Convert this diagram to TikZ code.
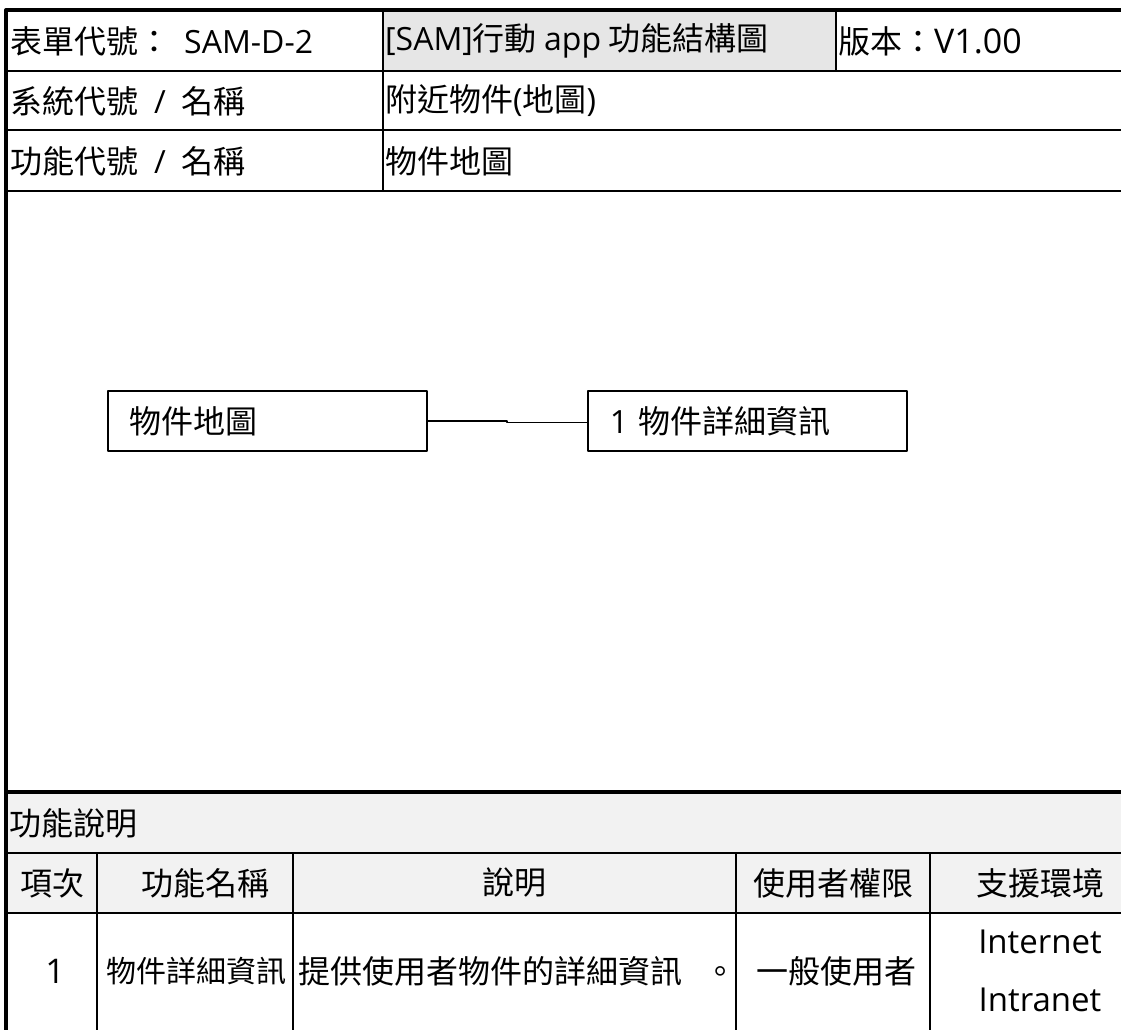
\documentclass[tikz,border=0pt]{standalone}
\usepackage{fontspec}
\setmainfont{Noto Sans CJK TC}
\newfontfamily\latin{Open Sans}
\newcommand\lat[1]{{\latin #1}}
\usetikzlibrary{positioning}
\definecolor{titlegray}{HTML}{E6E6E6}
\definecolor{headgray}{HTML}{F2F2F2}
\begin{document}
\begin{tikzpicture}[x=1pt,y=-1pt,line join=round,font=\fontsize{32}{38}\selectfont,
	rule/.style={line width=1.8pt},
	heavy/.style={line width=4pt},
	cell/.style={anchor=west,inner sep=0pt},
	mid/.style={inner sep=0pt},
	fnbox/.style={draw,line width=1.5pt,anchor=west,minimum height=60pt,text width=275pt,inner xsep=22pt,align=left}]
	\def \xl{6};
	\def \xr{1121};
	\def \yb{1030};
	\useasboundingbox (0,0) rectangle (\xr,\yb);
	% header grid
	\fill[titlegray] (383,10) rectangle (836,71);
	\fill[headgray] (\xl,792) rectangle (\xr,913);
	\foreach \y in {71,130}
	{
		\draw[rule] (\xl,\y) -- (\xr,\y);
	}
	\draw[rule,line width=2.5pt] (\xl,191) -- (\xr,191);
	\draw[rule] (383,10) -- (383,191);
	\draw[rule] (836,10) -- (836,71);
	\draw[heavy] (\xr,10) -- (\xl,10) -- (\xl,\yb);
	\draw[heavy] (\xl,792) -- (\xr,792);
	% bottom table
	\foreach \y in {853,913}
	{
		\draw[rule] (\xl,\y) -- (\xr,\y);
	}
	\foreach \x in {97,293,736,930}
	{
		\draw[rule] (\x,853) -- (\x,\yb);
	}
	\node[cell] (formid) at (10,41) {表單代號：\hspace{14pt}\lat{SAM-D-2}};
	\node[cell] (title) at (385,41) {\lat{[SAM]}行動 \lat{app} 功能結構圖};
	\node[cell] (version) at (838,41) {版本：\lat{\fontsize{34}{38}\selectfont V1.00}};
	\node[cell] (syslabel) at (10,101) {系統代號\hspace{16pt}\lat{/}\hspace{16pt}名稱};
	\node[cell] (sysname) at (385,101) {附近物件\lat{(}地圖\lat{)}};
	\node[cell] (funclabel) at (10,161) {功能代號\hspace{16pt}\lat{/}\hspace{16pt}名稱};
	\node[cell] (funcname) at (385,161) {物件地圖};
	% structure
	\node[fnbox] (map) at (107,421) {物件地圖};
	\node[fnbox] (detail) at (587,421) {\lat{1} 物件詳細資訊};
	\coordinate (jog) at (507,421);
	\draw[line width=1.5pt] (map.east) -- (jog) -- ++(0,1.5) -- (detail.west |- 0,422.5);
	% function table
	\node[cell] (desc) at (9,823) {功能說明};
	\node[mid] (hno) at (52,883) {項次};
	\node[mid] (hname) at (205,883) {功能名稱};
	\node[mid] (hdesc) at (514.5,883) {說明};
	\node[mid] (hrole) at (833,883) {使用者權限};
	\node[mid] (henv) at (1040,883) {支援環境};
	\node[mid] (rno) at (55,971) {\lat{\fontsize{34}{38}\selectfont 1}};
	\node[cell] (rname) at (106,971) {\fontsize{30}{36}\selectfont 物件詳細資訊};
	\node[cell] (rdesc) at (298,971) {提供使用者物件的詳細資訊\hspace{22pt}。};
	\node[mid] (rrole) at (836,971) {一般使用者};
	\node[mid] (renv1) at (1040,942) {\lat{\fontsize{33}{38}\selectfont Internet}};
	\node[mid] (renv2) at (1040,1000) {\lat{\fontsize{33}{38}\selectfont Intranet}};
\end{tikzpicture}
\end{document}
